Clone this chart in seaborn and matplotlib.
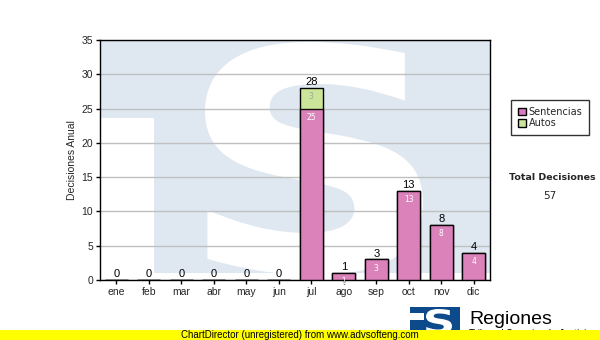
import matplotlib
matplotlib.use("Agg")
import matplotlib.pyplot as plt
from matplotlib.patches import Rectangle, Patch, PathPatch
from matplotlib.textpath import TextPath
from matplotlib.font_manager import FontProperties
from matplotlib.transforms import Affine2D
import seaborn as sns
import pandas as pd

meses = ["ene", "feb", "mar", "abr", "may", "jun", "jul", "ago", "sep", "oct", "nov", "dic"]
sentencias = [0, 0, 0, 0, 0, 0, 25, 1, 3, 13, 8, 4]
autos = [0, 0, 0, 0, 0, 0, 3, 0, 0, 0, 0, 0]
total_decisiones = 57

totales = [s + a for s, a in zip(sentencias, autos)]
df = pd.DataFrame({"mes": meses, "sentencias": sentencias, "autos": autos, "total": totales})

sns.set_style("white")
plt.rcParams["font.family"] = ["Liberation Sans", "DejaVu Sans"]

W, H = 600, 340
fig = plt.figure(figsize=(6, 3.4), dpi=100)
fig.patch.set_facecolor("white")

def fx(px):
    return px / W

def fy(py):
    return 1 - py / H

ax = fig.add_axes([fx(100), fy(280), fx(490) - fx(100), fy(40) - fy(280)])
ax.set_facecolor("white")

# watermark (decorative logo)
wm = "#dfe8f1"
ax.add_patch(Rectangle((fx(100), fy(273)), fx(490) - fx(100), fy(40) - fy(273),
                       transform=fig.transFigure, facecolor=wm, edgecolor="none", zorder=0.1))
ax.add_patch(Rectangle((fx(100), fy(280)), fx(154) - fx(100), fy(118) - fy(280),
                       transform=fig.transFigure, facecolor="white", edgecolor="none", zorder=0.2))

def glyph_patch(ch, x0, x1, y0, y1, color, z, target, family="DejaVu Sans"):
    tp = TextPath((0, 0), ch, size=100, prop=FontProperties(family=family, weight="bold"))
    bb = tp.get_extents()
    sx = (fx(x1) - fx(x0)) / bb.width
    sy = (fy(y0) - fy(y1)) / bb.height
    tr = Affine2D().translate(-bb.x0, -bb.y0).scale(sx, sy).translate(fx(x0), fy(y1))
    p = PathPatch(tr.transform_path(tp), facecolor=color, edgecolor="none",
                  transform=fig.transFigure, zorder=z)
    target.append(p) if isinstance(target, list) else target.add_patch(p)
    return p

sp_ = glyph_patch("S", 205, 423, 42, 275, "white", 0.3, ax)
sp_.set_clip_path(ax.patch)

sns.barplot(data=df, x="mes", y="total", order=meses, color="#cce699", saturation=1,
            edgecolor="black", linewidth=1, width=0.7, ax=ax, zorder=2)
sns.barplot(data=df, x="mes", y="sentencias", order=meses, color="#dd7abf", saturation=1,
            edgecolor="black", linewidth=1, width=0.7, ax=ax, zorder=3, alpha=0.92)

ax.set_ylim(0, 35)
ax.set_xlim(-0.5, 11.5)
ax.set_yticks(range(0, 36, 5))
ax.yaxis.grid(True, color="#c0c0c0", linewidth=1)
ax.set_axisbelow(True)
for sp in ax.spines.values():
    sp.set_color("black")
    sp.set_linewidth(1)
ax.tick_params(axis="both", direction="out", length=3, width=1, color="black",
               labelsize=7.5, pad=2, bottom=True, left=True)
ax.set_xlabel("")
ax.set_ylabel("Decisiones Anual", fontsize=7.5, labelpad=3)

for i, (s, a, t) in enumerate(zip(sentencias, autos, totales)):
    ax.annotate(str(t), (i, t), xytext=(0, 0.5), textcoords="offset points",
                ha="center", va="bottom", fontsize=8, color="black", zorder=5)
    if s > 0:
        ax.annotate(str(s), (i, s), xytext=(0, -3), textcoords="offset points",
                    ha="center", va="top", fontsize=5.5, color="white",
                    family="DejaVu Sans", zorder=5)
    if a > 0:
        ax.annotate(str(a), (i, t), xytext=(0, -3), textcoords="offset points",
                    ha="center", va="top", fontsize=5.5, color="#a0a0a0",
                    family="DejaVu Sans", zorder=5)

handles = [Patch(facecolor="#dd7abf", edgecolor="black", label="Sentencias"),
           Patch(facecolor="#cce699", edgecolor="black", label="Autos")]
leg = fig.legend(handles=handles, loc="upper left", bbox_to_anchor=(fx(511), fy(100)),
                 borderaxespad=0, frameon=True, fancybox=False, edgecolor="black",
                 borderpad=0.7, handlelength=0.8, handleheight=0.8, handletextpad=0.3,
                 labelspacing=0.15, prop={"family": "DejaVu Sans", "size": 7})
leg.get_frame().set_linewidth(1)

fig.text(fx(552), fy(177), "Total Decisiones", ha="center", va="center", fontsize=6.8,
         fontweight="bold", family="DejaVu Sans")
fig.text(fx(550), fy(196), str(total_decisiones), ha="center", va="center", fontsize=7.5,
         family="DejaVu Sans")

# logo at bottom
fig.patches.append(Rectangle((fx(410), fy(332)), fx(460) - fx(410), fy(307) - fy(332),
                             transform=fig.transFigure, facecolor="#0c4a8c", edgecolor="none",
                             zorder=1))
fig.patches.append(Rectangle((fx(410), fy(320)), fx(424) - fx(410), fy(313) - fy(320),
                             transform=fig.transFigure, facecolor="white", edgecolor="none",
                             zorder=1.5))
glyph_patch("S", 426, 452, 309, 334, "white", 2, fig.patches)
fig.text(fx(469), fy(324), "Regiones", ha="left", va="baseline", fontsize=14, color="black")
fig.text(fx(469), fy(337), "Tribunal Superior de Justicia", ha="left", va="baseline",
         fontsize=7, color="black")

fig.patches.append(Rectangle((0, 0), 1, fy(330), transform=fig.transFigure,
                             facecolor="#ffff00", edgecolor="none", zorder=5))
fig.text(0.5, fy(335), "ChartDirector (unregistered) from www.advsofteng.com", ha="center",
         va="center", fontsize=7, color="black", zorder=6)

fig.savefig("out.png", dpi=100, facecolor="white")
